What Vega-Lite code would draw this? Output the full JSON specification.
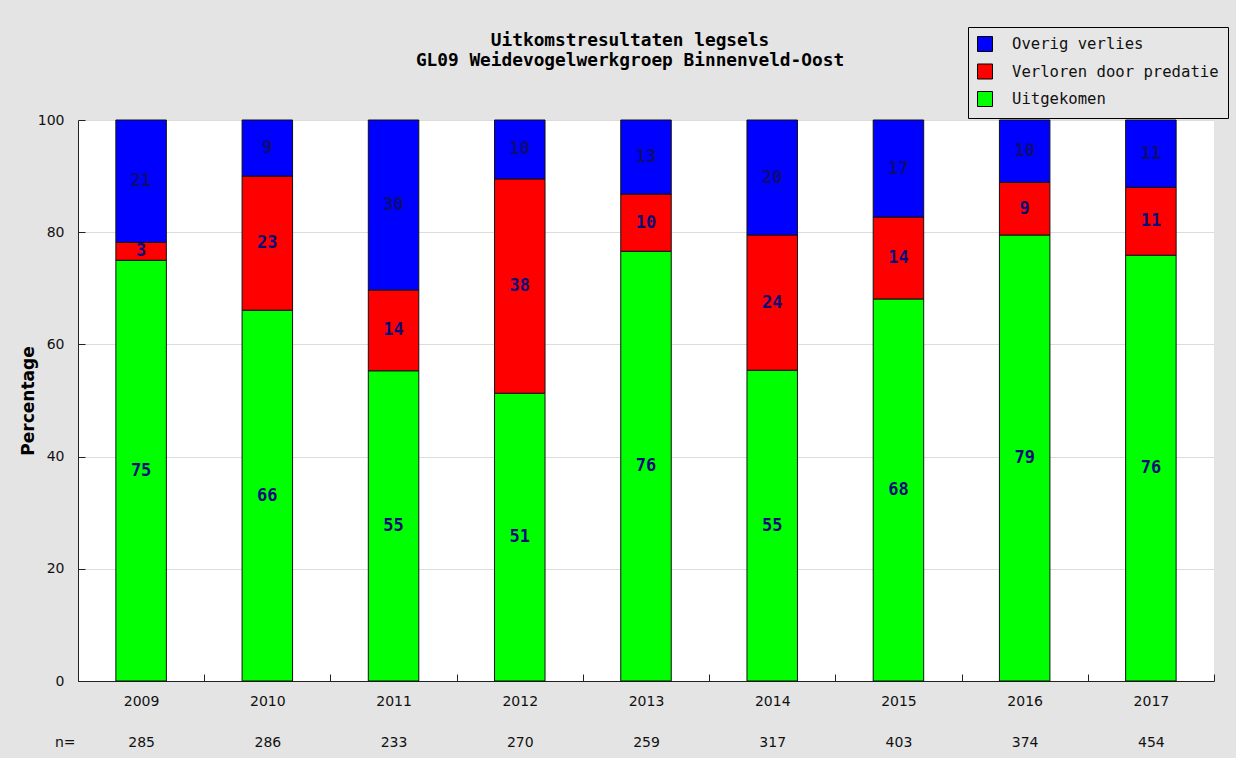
{
  "$schema": "https://vega.github.io/schema/vega-lite/v6.json",
  "width": 1136,
  "height": 561,
  "autosize": "none",
  "padding": {"left": 78, "top": 120, "right": 22, "bottom": 77},
  "background": "#e4e4e4",
  "title": {
    "text": ["Uitkomstresultaten legsels", "GL09 Weidevogelwerkgroep Binnenveld-Oost"],
    "anchor": "middle",
    "frame": "group",
    "dx": -16,
    "offset": -43,
    "font": "DejaVu Sans Mono",
    "fontSize": 17.8,
    "fontWeight": "bold",
    "lineHeight": 20,
    "color": "#000000"
  },
  "data": {
    "values": [
      {"year": "2009", "n": 285, "cat": "Uitgekomen", "pct": 75.0, "label": "75"},
      {"year": "2009", "n": 285, "cat": "Verloren door predatie", "pct": 3.2, "label": "3"},
      {"year": "2009", "n": 285, "cat": "Overig verlies", "pct": 21.8, "label": "21"},
      {"year": "2010", "n": 286, "cat": "Uitgekomen", "pct": 66.1, "label": "66"},
      {"year": "2010", "n": 286, "cat": "Verloren door predatie", "pct": 23.9, "label": "23"},
      {"year": "2010", "n": 286, "cat": "Overig verlies", "pct": 10.0, "label": "9"},
      {"year": "2011", "n": 233, "cat": "Uitgekomen", "pct": 55.3, "label": "55"},
      {"year": "2011", "n": 233, "cat": "Verloren door predatie", "pct": 14.4, "label": "14"},
      {"year": "2011", "n": 233, "cat": "Overig verlies", "pct": 30.3, "label": "30"},
      {"year": "2012", "n": 270, "cat": "Uitgekomen", "pct": 51.3, "label": "51"},
      {"year": "2012", "n": 270, "cat": "Verloren door predatie", "pct": 38.2, "label": "38"},
      {"year": "2012", "n": 270, "cat": "Overig verlies", "pct": 10.5, "label": "10"},
      {"year": "2013", "n": 259, "cat": "Uitgekomen", "pct": 76.6, "label": "76"},
      {"year": "2013", "n": 259, "cat": "Verloren door predatie", "pct": 10.2, "label": "10"},
      {"year": "2013", "n": 259, "cat": "Overig verlies", "pct": 13.2, "label": "13"},
      {"year": "2014", "n": 317, "cat": "Uitgekomen", "pct": 55.4, "label": "55"},
      {"year": "2014", "n": 317, "cat": "Verloren door predatie", "pct": 24.1, "label": "24"},
      {"year": "2014", "n": 317, "cat": "Overig verlies", "pct": 20.5, "label": "20"},
      {"year": "2015", "n": 403, "cat": "Uitgekomen", "pct": 68.1, "label": "68"},
      {"year": "2015", "n": 403, "cat": "Verloren door predatie", "pct": 14.6, "label": "14"},
      {"year": "2015", "n": 403, "cat": "Overig verlies", "pct": 17.3, "label": "17"},
      {"year": "2016", "n": 374, "cat": "Uitgekomen", "pct": 79.5, "label": "79"},
      {"year": "2016", "n": 374, "cat": "Verloren door predatie", "pct": 9.4, "label": "9"},
      {"year": "2016", "n": 374, "cat": "Overig verlies", "pct": 11.1, "label": "10"},
      {"year": "2017", "n": 454, "cat": "Uitgekomen", "pct": 75.9, "label": "76"},
      {"year": "2017", "n": 454, "cat": "Verloren door predatie", "pct": 12.1, "label": "11"},
      {"year": "2017", "n": 454, "cat": "Overig verlies", "pct": 12.0, "label": "11"}
    ]
  },
  "transform": [
    {"calculate": "datum.year + '|' + datum.n", "as": "xk"},
    {"calculate": "indexof(['Uitgekomen', 'Verloren door predatie', 'Overig verlies'], datum.cat)", "as": "ord"}
  ],
  "encoding": {
    "x": {
      "field": "xk",
      "type": "nominal",
      "sort": "ascending",
      "scale": {"paddingInner": 0, "paddingOuter": 0},
      "axis": {
        "title": "n=",
        "titleX": -3,
        "titleY": 61,
        "titleAlign": "right",
        "titleBaseline": "middle",
        "titleAngle": 0,
        "titleFont": "DejaVu Sans",
        "titleFontSize": 14,
        "titleFontWeight": "normal",
        "titleColor": "#111111",
        "labelExpr": "split(datum.label, '|')",
        "labelAngle": 0,
        "labelFont": "DejaVu Sans",
        "labelFontSize": 14,
        "labelColor": "#111111",
        "labelLineHeight": 41,
        "labelBaseline": "top",
        "labelPadding": 20,
        "tickBand": "extent",
        "tickSize": -7,
        "tickColor": "#222222",
        "domainColor": "#222222",
        "grid": false
      }
    }
  },
  "layer": [
    {
      "mark": {"type": "bar", "width": {"band": 0.4}, "stroke": "#111111", "strokeWidth": 1},
      "encoding": {
        "y": {
          "field": "pct",
          "type": "quantitative",
          "stack": "zero",
          "scale": {"domain": [0, 100], "nice": false},
          "axis": {
            "title": "Percentage",
            "titleFont": "DejaVu Sans",
            "titleFontSize": 17,
            "titleFontWeight": "bold",
            "titleColor": "#000000",
            "titlePadding": 0,
            "values": [0, 20, 40, 60, 80, 100],
            "labelFont": "DejaVu Sans",
            "labelFontSize": 14,
            "labelColor": "#111111",
            "labelPadding": 21,
            "tickSize": -7,
            "tickColor": "#222222",
            "domainColor": "#222222",
            "grid": true,
            "gridColor": "#dcdcdc"
          }
        },
        "color": {
          "field": "cat",
          "type": "nominal",
          "scale": {
            "domain": ["Overig verlies", "Verloren door predatie", "Uitgekomen"],
            "range": ["#0000ff", "#ff0000", "#00ff00"]
          },
          "legend": {
            "title": null,
            "orient": "none",
            "legendX": 890,
            "legendY": -93,
            "fillColor": "#e6e6e6",
            "strokeColor": "#000000",
            "padding": 9,
            "symbolType": "square",
            "symbolSize": 225,
            "symbolStrokeColor": "#000000",
            "symbolStrokeWidth": 1,
            "symbolOpacity": 1,
            "labelFont": "DejaVu Sans Mono",
            "labelFontSize": 15.6,
            "labelColor": "#111111",
            "labelOffset": 19,
            "rowPadding": 7.5,
            "labelLimit": 400
          }
        },
        "order": {"field": "ord", "type": "quantitative"}
      }
    },
    {
      "mark": {"type": "text", "font": "DejaVu Sans Mono", "fontSize": 17, "fontWeight": "bold", "color": "#0c0c78", "align": "center", "baseline": "middle"},
      "encoding": {
        "y": {"field": "pct", "type": "quantitative", "stack": "zero", "bandPosition": 0.5},
        "detail": {"field": "cat"},
        "order": {"field": "ord", "type": "quantitative"},
        "text": {"field": "label"}
      }
    }
  ],
  "config": {
    "view": {"fill": "#ffffff", "stroke": null}
  }
}
